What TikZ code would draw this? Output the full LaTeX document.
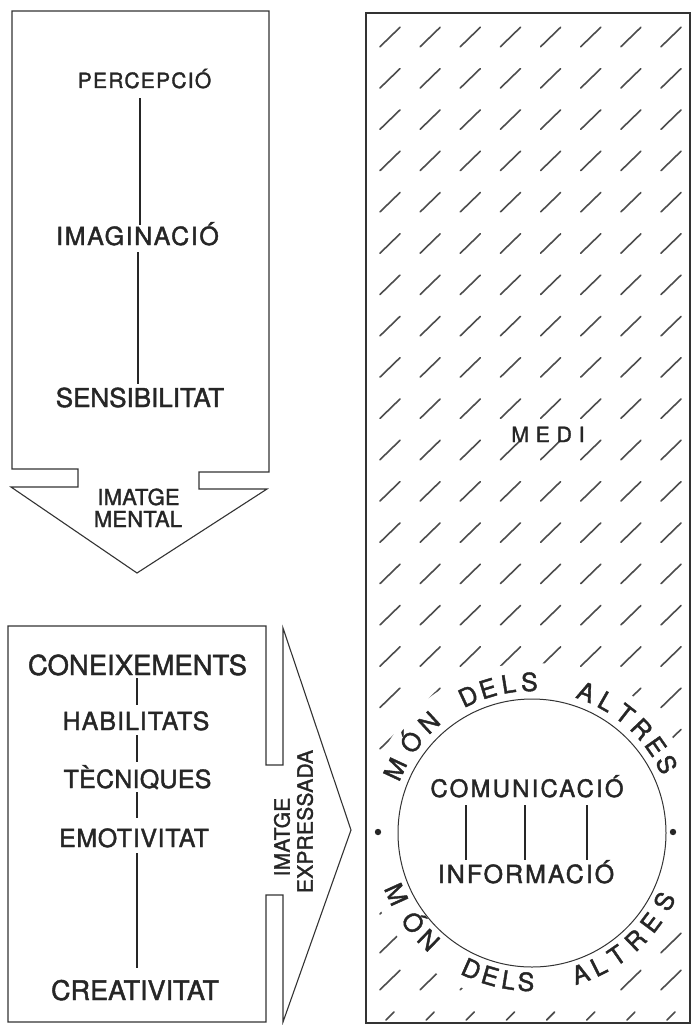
\documentclass[tikz,border=0pt]{standalone}
\usepackage{fontspec}
\setmainfont{TeX Gyre Heros}[FakeBold=1.6]
\newcommand\lbl[3]{{\fontsize{#1}{#1}\selectfont\addfontfeature{LetterSpace=#2}#3}}
\begin{document}
\begin{tikzpicture}[x=1pt,y=1pt]
\tikzset{
  outline/.style={draw=black!80, line width=1.1pt, line join=miter},
  txt/.style={inner sep=0pt, text=black!85, anchor=base},
  rtxt/.style={inner sep=0pt, text=black!85, rotate=90},
  conn/.style={draw=black!85, line width=2.2pt},
  thin conn/.style={draw=black!85, line width=2pt},
  hatch/.style={draw=black!70, line width=1.6pt, line cap=round},
  arcl/.style={inner sep=0pt, text=black!85, anchor=base, font=\fontsize{25}{25}\selectfont},
  dotm/.style={fill=black!85},
}
\useasboundingbox[fill=white] (0,0) rectangle (693,-1025);

% ---------- top-left box with downward arrow ----------
\draw[outline] (12,-11) -- (269,-11) -- (269,-472) -- (199,-472) -- (199,-489)
  -- (267,-489) -- (137,-573) -- (11,-487) -- (78,-487) -- (78,-469) -- (12,-469) -- cycle;

\node[txt] (perc) at (144.5,-88) {\lbl{21}{6}{PERCEPCIÓ}};
\node[txt] (imag) at (137.5,-245) {\lbl{25}{6.5}{IMAGINACIÓ}};
\node[txt] (sens) at (140,-407) {\lbl{26}{0}{SENSIBILITAT}};
\coordinate (lx1) at (140,0);
\coordinate (lx2) at (138,0);
\draw[conn] ([yshift=-10pt]perc.base -| lx1) -- ([yshift=20pt]imag.base -| lx1);
\draw[conn] ([yshift=-7pt]imag.base -| lx2) -- ([yshift=23pt]sens.base -| lx2);

\node[txt] (imt1) at (138.5,-505) {\lbl{22}{1}{IMATGE}};
\node[txt] (imt2) at (138,-527) {\lbl{22}{1}{MENTAL}};

% ---------- bottom-left box with rightward arrow ----------
\draw[outline] (8,-626) -- (266,-626) -- (266,-765) -- (283,-765) -- (283,-628)
  -- (351,-830) -- (283,-1022) -- (283,-895) -- (266,-895) -- (266,-1022) -- (8,-1022) -- cycle;

\node[txt] (con) at (137.5,-675) {\lbl{27.5}{0}{CONEIXEMENTS}};
\node[txt] (hab) at (136,-730) {\lbl{25}{4}{HABILITATS}};
\node[txt] (tec) at (137.5,-788) {\lbl{25}{1}{TÈCNIQUES}};
\node[txt] (emo) at (134,-847) {\lbl{25}{2.5}{EMOTIVITAT}};
\node[txt] (cre) at (135,-1000) {\lbl{27}{0}{CREATIVITAT}};
\coordinate (lx3) at (137,0);
\draw[thin conn] ([yshift=-3pt]con.base -| lx3) -- ([yshift=25pt]hab.base -| lx3);
\draw[thin conn] ([yshift=-5pt]hab.base -| lx3) -- ([yshift=26pt]tec.base -| lx3);
\draw[thin conn] ([yshift=-4pt]tec.base -| lx3) -- ([yshift=29pt]emo.base -| lx3);
\draw[thin conn] ([yshift=-6pt]emo.base -| lx3) -- ([yshift=32pt]cre.base -| lx3);

\node[rtxt] (ie1) at (282,-837) {\lbl{21}{1}{IMATGE}};
\node[rtxt] (ie2) at (305,-821.5) {\lbl{21}{1}{EXPRESSADA}};

% ---------- right box (medi) ----------
\draw[outline] (366,-13) rectangle (690,-1023);
\coordinate (cc) at (532,-833);
\begin{scope}[even odd rule]
  \clip (366,-13) rectangle (690,-1023) (532,-833) circle (170);
  \foreach \j in {0,...,21}{
    \foreach \i in {0,...,7}{
      \draw[hatch] ({390+40.15*\i-10},{-(37+41.3*\j)-9.7}) -- ++(20,19.4);
    }
  }
  \foreach \yy in {943,980}{
    \foreach \i in {0,...,7}{
      \draw[hatch] ({390+40.15*\i-10},{-\yy-9.7}) -- ++(20,19.4);
    }
  }
  \foreach \i in {0,...,7}{
    \draw[hatch] ({390+40.15*\i-4},{-1016-4}) -- ++(8,8);
  }
\end{scope}

\node[txt] (medi) at (548,-442) {\lbl{21}{33}{MEDI}};

\draw[draw=black!80, line width=1pt] (cc) circle (134);

\node[txt] (com) at (527,-797) {\lbl{24}{9}{COMUNICACIÓ}};
\node[txt] (inf) at (526,-883) {\lbl{25}{8}{INFORMACIÓ}};
\foreach \xx in {466,525,587}{
  \coordinate (cx\xx) at (\xx,0);
  \draw[thin conn] ([yshift=-8pt]com.base -| cx\xx) -- ([yshift=23pt]inf.base -| cx\xx);
}

\foreach \a/\ch [count=\k] in {155/M,143/Ó,133/N,115/D,107/E,99/L,91/S,69/A,60.5/L,52/T,43.5/R,35/E,27/S}{
  \node[arcl, rotate=\a-90] (top\k) at ([shift={(\a:142)}]cc) {\ch};
}
\foreach \a/\ch [count=\k] in {204.3/M,217/Ó,226/N,246/D,253.7/E,261/L,267.7/S,289/A,296.6/L,304.7/T,314/R,323/E,332.7/S}{
  \node[arcl, rotate=\a+90] (bot\k) at ([shift={(\a:158)}]cc) {\ch};
}

\fill[dotm] (378,-832) circle (3.2);
\fill[dotm] (673,-832) circle (3.2);
\end{tikzpicture}
\end{document}
